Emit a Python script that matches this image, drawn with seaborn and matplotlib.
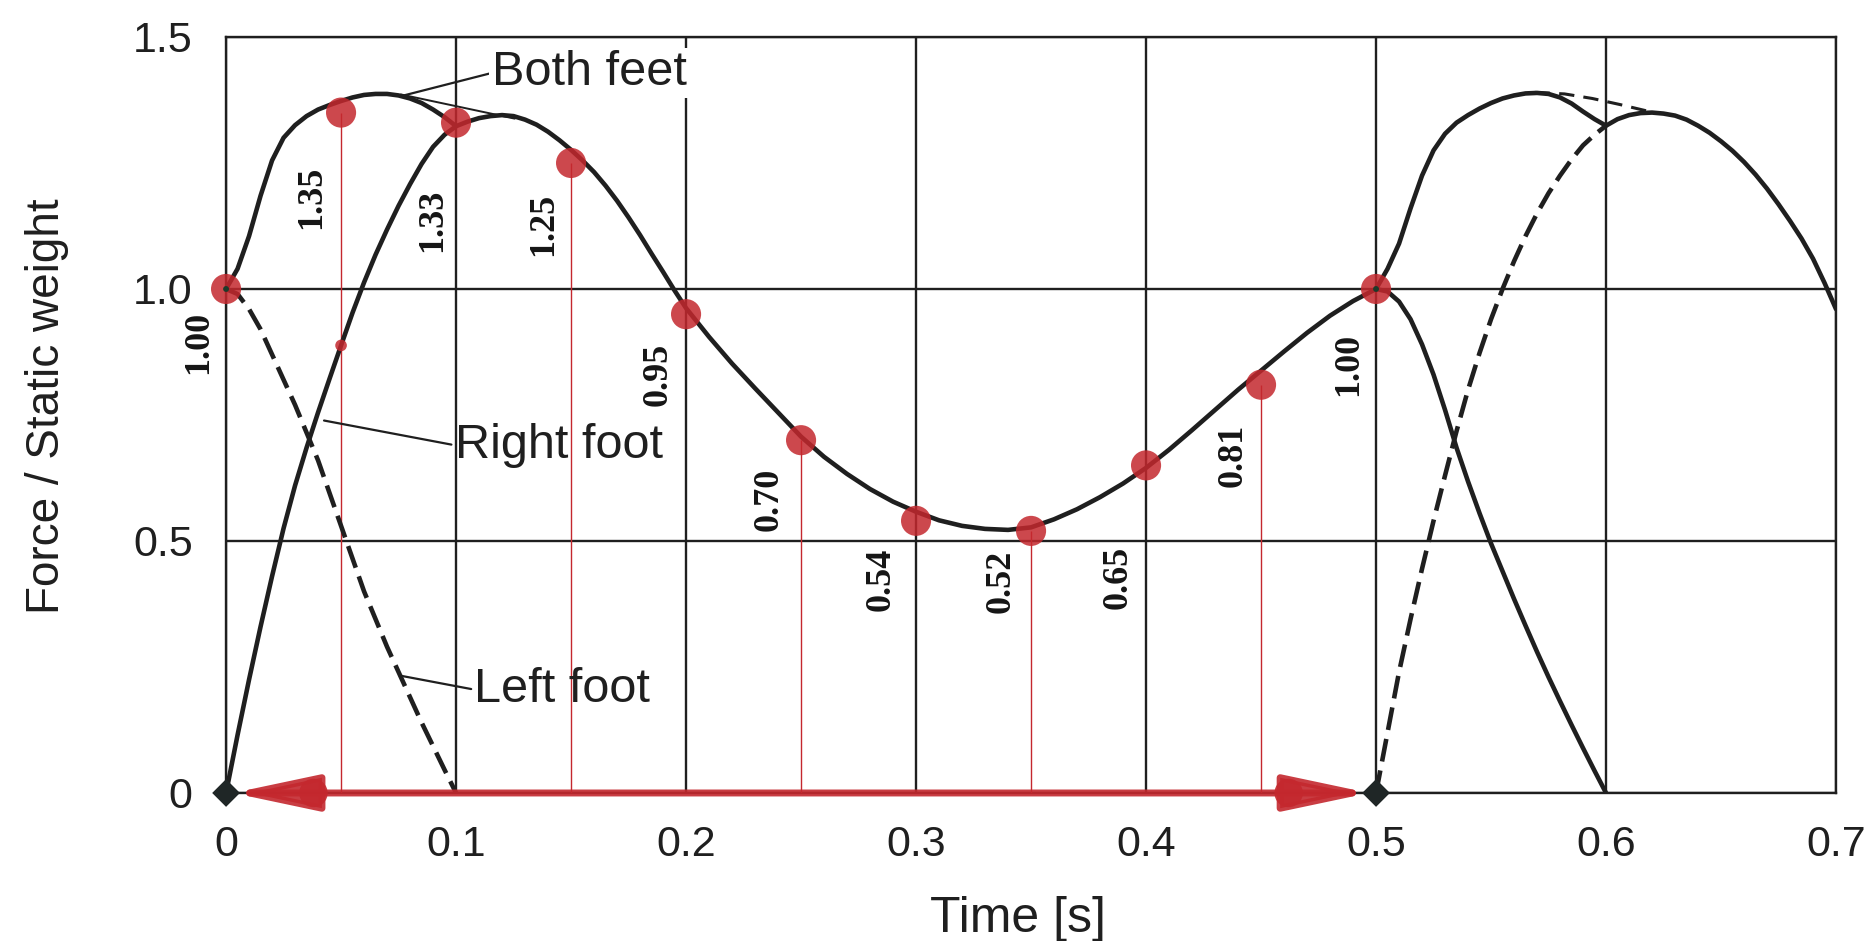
import numpy as np
import pandas as pd
import matplotlib
matplotlib.use("Agg")
import matplotlib.pyplot as plt
import seaborn as sns

# ---- data: vertical ground reaction force / static weight over time [s] ----
# both feet combined (solid)
both_t = [0, 0.005, 0.01, 0.015, 0.02, 0.025, 0.03, 0.035, 0.04, 0.045, 0.05,
          0.055, 0.06, 0.065, 0.07, 0.075, 0.08, 0.085, 0.09, 0.095, 0.1,
          0.105, 0.11, 0.115, 0.12, 0.125, 0.13, 0.135, 0.14, 0.145, 0.15,
          0.155, 0.16, 0.165, 0.17, 0.175, 0.18, 0.185, 0.19, 0.195, 0.2,
          0.21, 0.22, 0.23, 0.24, 0.25, 0.26, 0.27, 0.28, 0.29, 0.3,
          0.31, 0.32, 0.33, 0.34, 0.35, 0.36, 0.37, 0.38, 0.39, 0.4,
          0.41, 0.42, 0.43, 0.44, 0.45, 0.46, 0.47, 0.48, 0.49, 0.5,
          0.505, 0.51, 0.515, 0.52, 0.525, 0.53, 0.535, 0.54, 0.545, 0.55,
          0.555, 0.56, 0.565, 0.57, 0.575, 0.58, 0.585, 0.59, 0.595, 0.6,
          0.605, 0.61, 0.615, 0.62, 0.625, 0.63, 0.635, 0.64, 0.645, 0.65,
          0.655, 0.66, 0.665, 0.67, 0.675, 0.68, 0.685, 0.69, 0.695, 0.7]
both_v = [1.0, 1.04, 1.105, 1.185, 1.255, 1.3, 1.325, 1.343, 1.356, 1.365, 1.373,
          1.38, 1.385, 1.387, 1.387, 1.384, 1.378, 1.369, 1.356, 1.341, 1.323,
          1.332, 1.339, 1.343, 1.345, 1.343, 1.336, 1.326, 1.312, 1.295, 1.276,
          1.255, 1.232, 1.205, 1.175, 1.142, 1.107, 1.07, 1.034, 0.997, 0.962,
          0.905, 0.852, 0.803, 0.755, 0.707, 0.667, 0.633, 0.603, 0.578, 0.558,
          0.541, 0.53, 0.524, 0.522, 0.527, 0.543, 0.563, 0.587, 0.614, 0.645,
          0.681, 0.72, 0.76, 0.8, 0.838, 0.876, 0.913, 0.947, 0.976, 1.0,
          1.04, 1.09, 1.16, 1.225, 1.275, 1.308, 1.33, 1.345, 1.358, 1.369,
          1.378, 1.384, 1.388, 1.389, 1.387, 1.38, 1.368, 1.352, 1.337, 1.324,
          1.337, 1.345, 1.349, 1.35, 1.348, 1.344, 1.336, 1.324, 1.31, 1.293,
          1.274, 1.252, 1.227, 1.199, 1.168, 1.135, 1.1, 1.06, 1.012, 0.96]

# right foot loading and unloading (solid)
right_rise_t = [0, 0.005, 0.01, 0.015, 0.02, 0.025, 0.03, 0.035, 0.04, 0.045, 0.05,
                0.055, 0.06, 0.065, 0.07, 0.075, 0.08, 0.085, 0.09, 0.095, 0.1]
right_rise_v = [0, 0.115, 0.225, 0.33, 0.43, 0.525, 0.61, 0.685, 0.755, 0.822, 0.888,
                0.953, 1.013, 1.068, 1.118, 1.165, 1.208, 1.248, 1.282, 1.306, 1.323]
right_fall_t = [0.5, 0.505, 0.51, 0.515, 0.52, 0.525, 0.53, 0.535, 0.54, 0.545, 0.55,
                0.555, 0.56, 0.565, 0.57, 0.575, 0.58, 0.585, 0.59, 0.595, 0.6]
right_fall_v = [1.0, 0.995, 0.975, 0.94, 0.89, 0.83, 0.76, 0.685, 0.618, 0.555, 0.495,
                0.44, 0.385, 0.332, 0.28, 0.23, 0.182, 0.135, 0.089, 0.044, 0.0]

# left foot unloading and loading (dashed)
left_fall_t = [0, 0.005, 0.01, 0.015, 0.02, 0.025, 0.03, 0.035, 0.04, 0.045, 0.05,
               0.055, 0.06, 0.065, 0.07, 0.075, 0.08, 0.085, 0.09, 0.095, 0.1]
left_fall_v = [1.0, 0.99, 0.96, 0.92, 0.87, 0.82, 0.77, 0.715, 0.66, 0.595, 0.53,
               0.465, 0.40, 0.345, 0.29, 0.24, 0.19, 0.14, 0.093, 0.046, 0.0]
left_rise_t = [0.5, 0.505, 0.51, 0.515, 0.52, 0.525, 0.53, 0.535, 0.54, 0.545, 0.55,
               0.555, 0.56, 0.565, 0.57, 0.575, 0.58, 0.585, 0.59, 0.595, 0.6]
left_rise_v = [0.0, 0.12, 0.24, 0.345, 0.445, 0.54, 0.63, 0.718, 0.8, 0.873, 0.94,
               1.0, 1.055, 1.105, 1.15, 1.19, 1.225, 1.257, 1.285, 1.306, 1.324]

# peak-to-peak envelope over the double-support dip
bridge1_t = [0.076, 0.1255]
bridge1_v = [1.386, 1.338]
bridge2_t = [0.569, 0.582, 0.594, 0.606, 0.618]
bridge2_v = [1.39, 1.387, 1.378, 1.366, 1.353]

# sampled values every 0.05 s
mark_t = [0, 0.05, 0.1, 0.15, 0.2, 0.25, 0.3, 0.35, 0.4, 0.45, 0.5]
mark_v = [1.00, 1.35, 1.33, 1.25, 0.95, 0.70, 0.54, 0.52, 0.65, 0.81, 1.00]
mark_text = ["1.00", "1.35", "1.33", "1.25", "0.95", "0.70", "0.54", "0.52", "0.65", "0.81", "1.00"]

# heel-strike to heel-strike step interval
step_t = [0.0, 0.5]

xticks = [0, 0.1, 0.2, 0.3, 0.4, 0.5, 0.6, 0.7]
xtick_labels = ["0", "0.1", "0.2", "0.3", "0.4", "0.5", "0.6", "0.7"]
yticks = [0, 0.5, 1.0, 1.5]
ytick_labels = ["0", "0.5", "1.0", "1.5"]

# ---- styling ----
sns.set_theme(style="white")
plt.rcParams["font.family"] = ["Liberation Sans", "DejaVu Sans"]

INK = "#1f1f1f"
RED = "#c4282e"
LW = 3.3

fig = plt.figure(figsize=(18.76, 9.41), dpi=100)
ax = fig.add_axes([0.1205, 0.1573, 0.8582, 0.8034])

def curve(t, v, **kw):
    df = pd.DataFrame({"t": t, "v": v})
    sns.lineplot(data=df, x="t", y="v", ax=ax, sort=False, estimator=None,
                 color=INK, solid_capstyle="round", solid_joinstyle="round",
                 dash_capstyle="butt", **kw)

curve(both_t, both_v, lw=LW, zorder=5)
curve(right_rise_t, right_rise_v, lw=LW, zorder=5)
curve(right_fall_t, right_fall_v, lw=LW, zorder=5)
curve(left_fall_t, left_fall_v, lw=LW, zorder=5, linestyle=(0, (5, 2)))
curve(left_rise_t, left_rise_v, lw=LW, zorder=5, linestyle=(0, (5, 2)))
curve(bridge1_t, bridge1_v, lw=1.4, zorder=5)
curve(bridge2_t, bridge2_v, lw=2.2, zorder=5, linestyle=(0, (5, 3)))

# drop lines from the half-step samples
ax.vlines(mark_t[1::2], 0, mark_v[1::2], color=RED, lw=1.0, zorder=3)

# sample markers
sns.scatterplot(x=mark_t, y=mark_v, ax=ax, s=470, color=RED, alpha=0.85,
                edgecolor="none", zorder=6, clip_on=False, legend=False)
sns.scatterplot(x=[mark_t[0], mark_t[-1]], y=[mark_v[0], mark_v[-1]], ax=ax, s=18,
                color="#1d3b2a", edgecolor="none", zorder=7, clip_on=False, legend=False)
sns.scatterplot(x=[right_rise_t[10]], y=[right_rise_v[10]], ax=ax, s=70, color=RED,
                alpha=0.85, edgecolor="none", zorder=6, legend=False)

# value labels
lbl_t = [-0.012, 0.037, 0.090, 0.138, 0.188, 0.236, 0.285, 0.337, 0.388, 0.438, 0.488]
lbl_v = [0.894, 1.181, 1.136, 1.128, 0.831, 0.583, 0.424, 0.420, 0.427, 0.670, 0.851]
for tx, ty, s in zip(lbl_t, lbl_v, mark_text):
    ax.text(tx, ty, s, rotation=90, ha="center", va="center", fontsize=26,
            fontweight="bold", family=["Liberation Serif", "DejaVu Serif"],
            color="#151515", zorder=8)

# step interval arrow along the time axis
ax.annotate("", xy=(step_t[0] + 0.003, 0), xytext=(step_t[1] - 0.003, 0),
            arrowprops=dict(arrowstyle="<|-|>,head_length=2.6,head_width=0.55",
                            mutation_scale=20, lw=5, color=RED, alpha=0.9,
                            shrinkA=0, shrinkB=0),
            zorder=6, annotation_clip=False)
sns.scatterplot(x=[step_t[0] + 0.038, step_t[1] - 0.038], y=[0, 0], ax=ax, s=420,
                color=RED, alpha=0.9, edgecolor="none", zorder=6, clip_on=False,
                legend=False)
sns.scatterplot(x=step_t, y=[0, 0], ax=ax, s=200, marker="D", color="#1f2626",
                edgecolor="none", zorder=7, clip_on=False, legend=False)

# curve annotations
lead = dict(arrowstyle="-", lw=1.6, color=INK, shrinkA=0, shrinkB=0, relpos=(0, 0.5))
ax.annotate("Both feet", xy=(0.0764, 1.383), xytext=(0.1155, 1.4286), fontsize=35,
            ha="left", va="center", color=INK, arrowprops=lead, zorder=9,
            bbox=dict(boxstyle="square,pad=0.05", fc="white", ec="none"))
ax.annotate("Right foot", xy=(0.0426, 0.739), xytext=(0.0994, 0.69), fontsize=35,
            ha="left", va="center", color=INK, arrowprops=lead, zorder=9)
ax.annotate("Left foot", xy=(0.0755, 0.233), xytext=(0.108, 0.205), fontsize=35,
            ha="left", va="center", color=INK, arrowprops=lead, zorder=9)

# axes, grid and ticks
ax.set_xlim(0, 0.7)
ax.set_ylim(0, 1.5)
ax.set_xticks(xticks, xtick_labels)
ax.set_yticks(yticks, ytick_labels)
ax.grid(True, color=INK, lw=1.7)
ax.set_axisbelow(True)
for sp in ax.spines.values():
    sp.set_visible(True)
    sp.set_color(INK)
    sp.set_linewidth(1.7)
ax.tick_params(axis="both", direction="out", length=14, width=1.7, color=INK,
               labelsize=31, labelcolor=INK)
ax.tick_params(axis="x", pad=9)
ax.tick_params(axis="y", pad=10)

ax.set_xlabel("Time [s]", fontsize=36, color=INK, va="center")
ax.set_ylabel("Force / Static weight", fontsize=33, color=INK, va="center")
ax.xaxis.set_label_coords(0.492, -0.167)
ax.yaxis.set_label_coords(-0.111, 0.511)

fig.savefig("out.png", dpi=100, facecolor="white")
